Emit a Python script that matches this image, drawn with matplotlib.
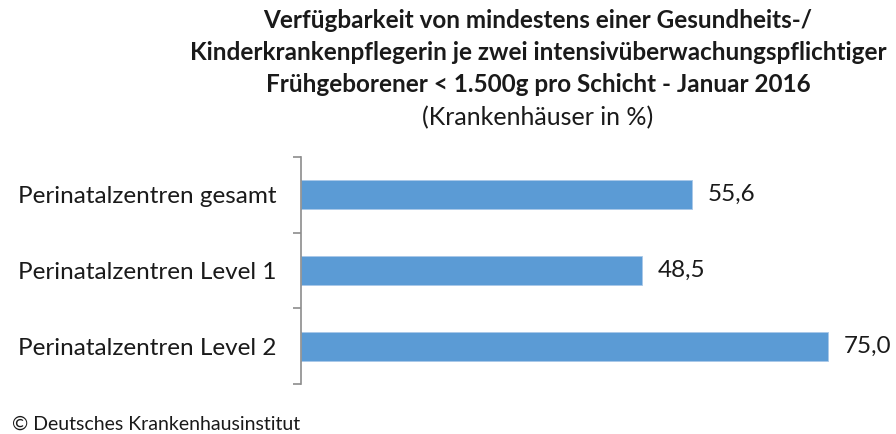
import matplotlib
matplotlib.use("Agg")
import matplotlib.pyplot as plt

categories = ["Perinatalzentren gesamt", "Perinatalzentren Level 1", "Perinatalzentren Level 2"]
values = [55.6, 48.5, 75.0]
title_lines = [
    "Verfügbarkeit von mindestens einer Gesundheits-/",
    "Kinderkrankenpflegerin je zwei intensivüberwachungspflichtiger",
    "Frühgeborener < 1.500g pro Schicht - Januar 2016",
]
subtitle = "(Krankenhäuser in %)"
footer = "© Deutsches Krankenhausinstitut"

plt.rcParams["font.family"] = ["Lato", "DejaVu Sans"]

W, H = 896, 434
fig = plt.figure(figsize=(W / 100, H / 100), dpi=100)
ax = fig.add_axes([301 / W, (H - 384) / H, (880 - 301) / W, (384 - 157) / H])

pos = list(range(len(categories)))
ax.barh(pos, values, height=0.38, color="#5B9BD5", edgecolor="#A9C8E8", linewidth=0.6)
for p, v in zip(pos, values):
    ax.text(v + 2.2, p, f"{v:.1f}".replace(".", ","), va="center", ha="left", fontsize=17.5, color="#1a1a1a")

ax.set_xlim(0, 579 / 7.03)
ax.set_ylim(len(categories) - 0.5, -0.5)
ax.set_yticks([p - 0.5 for p in pos] + [len(categories) - 0.5])
ax.set_yticklabels([])
ax.set_yticks(pos, minor=True)
ax.set_yticklabels(categories, minor=True, fontsize=17.5, color="#1a1a1a")
ax.tick_params(axis="y", which="major", length=6, width=1.2, color="#8c8c8c", direction="out")
ax.tick_params(axis="y", which="minor", length=0, pad=18)
ax.set_xticks([])
for s in ["top", "right", "bottom"]:
    ax.spines[s].set_visible(False)
ax.spines["left"].set_color("#8c8c8c")
ax.spines["left"].set_linewidth(1.2)

for i, line in enumerate(title_lines):
    fig.text(538 / W, 1 - (20 + 32.5 * i) / H, line, ha="center", va="center",
             fontsize=17.5, fontweight="bold", color="#1a1a1a")
fig.text(538 / W, 1 - 118 / H, subtitle, ha="center", va="center", fontsize=18, color="#1a1a1a")
fig.text(12 / W, 1 - 424 / H, footer, ha="left", va="center", fontsize=14, color="#1a1a1a")

fig.savefig("out.png", dpi=100)
plt.close(fig)
